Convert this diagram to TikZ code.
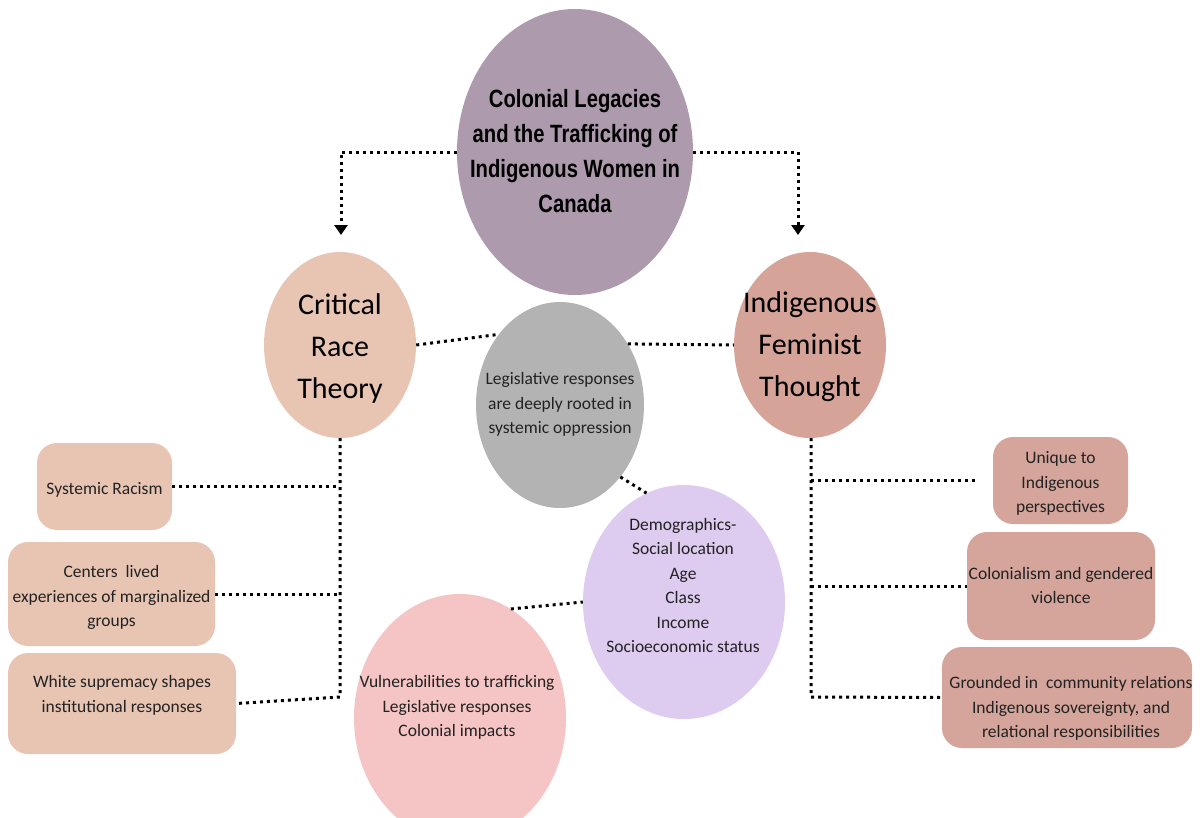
\documentclass[tikz,border=0pt]{standalone}
\usepackage{fontspec}
\setmainfont{Carlito}
\newfontfamily\titlefont[FakeStretch=0.81]{Liberation Sans}
\usetikzlibrary{arrows.meta,shapes.geometric}
\definecolor{txt}{HTML}{222222}
\definecolor{cTitle}{HTML}{AD9BAD}
\definecolor{cCrt}{HTML}{E8C5B3}
\definecolor{cIft}{HTML}{D5A397}
\definecolor{cGray}{HTML}{B3B3B3}
\definecolor{cDemo}{HTML}{DECBF0}
\definecolor{cPink}{HTML}{F5C4C4}
\definecolor{cLbox}{HTML}{E8C5B3}
\definecolor{cRbox}{HTML}{D5A59B}
\begin{document}
\begin{tikzpicture}[x=1pt,y=-1pt,
  bubble/.style={ellipse, inner sep=0pt, draw=none},
  card/.style={rectangle, rounded corners=20pt, inner sep=0pt, draw=none},
  label/.style={inner sep=0pt, align=center, text=txt, yshift=-3.5pt, font=\fontsize{17.5}{24.5}\selectfont},
  biglabel/.style={inner sep=0pt, align=center, text=black, yshift=-4pt, font=\fontsize{30}{42}\selectfont},
  titlelabel/.style={inner sep=0pt, align=center, text=black, font=\titlefont\bfseries\fontsize{25}{35}\selectfont},
  dots/.style={draw=black, line width=3pt, dash pattern=on 3pt off 4pt},
  tip/.style={-{Triangle[length=10pt,width=13pt]}}
]
\useasboundingbox (0,0) rectangle (1200,817);
\clip (0,0) rectangle (1200,817);

% shapes
\node[bubble, fill=cTitle, minimum width=236pt, minimum height=286pt] (title) at (575,152) {};
\node[bubble, fill=cCrt, minimum width=152pt, minimum height=186pt] (crt) at (340,345) {};
\node[bubble, fill=cIft, minimum width=152pt, minimum height=186pt] (ift) at (810,345) {};
\node[bubble, fill=cGray, minimum width=168pt, minimum height=206pt] (gray) at (560,405) {};
\node[bubble, fill=cDemo, minimum width=202pt, minimum height=234pt] (demo) at (684,602) {};
\node[bubble, fill=cPink, minimum width=212pt, minimum height=248pt] (pink) at (460,718) {};

\node[card, fill=cLbox, minimum width=135pt, minimum height=87pt] (lb1) at (104.5,486.5) {};
\node[card, fill=cLbox, minimum width=207pt, minimum height=104pt] (lb2) at (111.5,594) {};
\node[card, fill=cLbox, minimum width=228pt, minimum height=101pt] (lb3) at (122,703.5) {};
\node[card, fill=cRbox, minimum width=135pt, minimum height=87pt] (rb1) at (1060.5,480.5) {};
\node[card, fill=cRbox, minimum width=188pt, minimum height=108pt] (rb2) at (1061,586) {};
\node[card, fill=cRbox, minimum width=250pt, minimum height=101pt] (rb3) at (1067,697.5) {};

% texts
\node[titlelabel] (titletext) at (575,151) {Colonial Legacies\\and the Trafficking of\\Indigenous Women in\\Canada};
\node[biglabel] (crttext) at (340,344) {Critical\\Race\\Theory};
\node[biglabel] (ifttext) at (810,343) {Indigenous\\Feminist\\Thought};
\node[label] (graytext) at (560,401) {Legislative responses\\are deeply rooted in\\systemic oppression};
\node[label] (demotext) at (683,582) {Demographics-\\Social location\\Age\\Class\\Income\\Socioeconomic status};
\node[label] (pinktext) at (457,704) {Vulnerabilities to trafficking\\Legislative responses\\Colonial impacts};
\node[label] (lb1text) at (104.5,486) {Systemic Racism};
\node[label] (lb2text) at (111.5,594) {Centers\ \ lived\\experiences of marginalized\\groups};
\node[label] (lb3text) at (122,692) {White supremacy shapes\\institutional responses};
\node[label] (rb1text) at (1060.5,480) {Unique to\\Indigenous\\perspectives};
\node[label] (rb2text) at (1061,582) {Colonialism and gendered\\violence};
\node[label] (rb3text) at (1071,705) {Grounded in\ \ community relations\\Indigenous sovereignty, and\\relational responsibilities};

% connectors
\coordinate (la) at (341,240);
\coordinate (ra) at (798,240);
\draw[dots, tip, shorten >=5pt] (title.west) -| (la);
\draw[dots, tip, shorten >=5pt] (title.east) -| (ra);
\draw[dots] (crt.east) -- (gray.131);
\draw[dots] (gray.42) -- (ift.west);
\draw[dots] (gray.-50) -- (demo.109);
\draw[dots] (pink.65) -- (demo.west);

\coordinate (lj) at (340,697);
\draw[dots] (crt.south) -- (lj) -- (lb3.east);
\draw[dots] (lb1.east) -- (lb1.east -| lj);
\draw[dots] (lb2.east) -- (lb2.east -| lj);

\coordinate (rj) at (811,697);
\draw[dots] (ift.south -| rj) -- (rj) -- (rb3.west);
\draw[dots, shorten >=15pt] (rb1.west -| rj) -- (rb1.west);
\draw[dots] (rb2.west -| rj) -- (rb2.west);
\end{tikzpicture}
\end{document}
